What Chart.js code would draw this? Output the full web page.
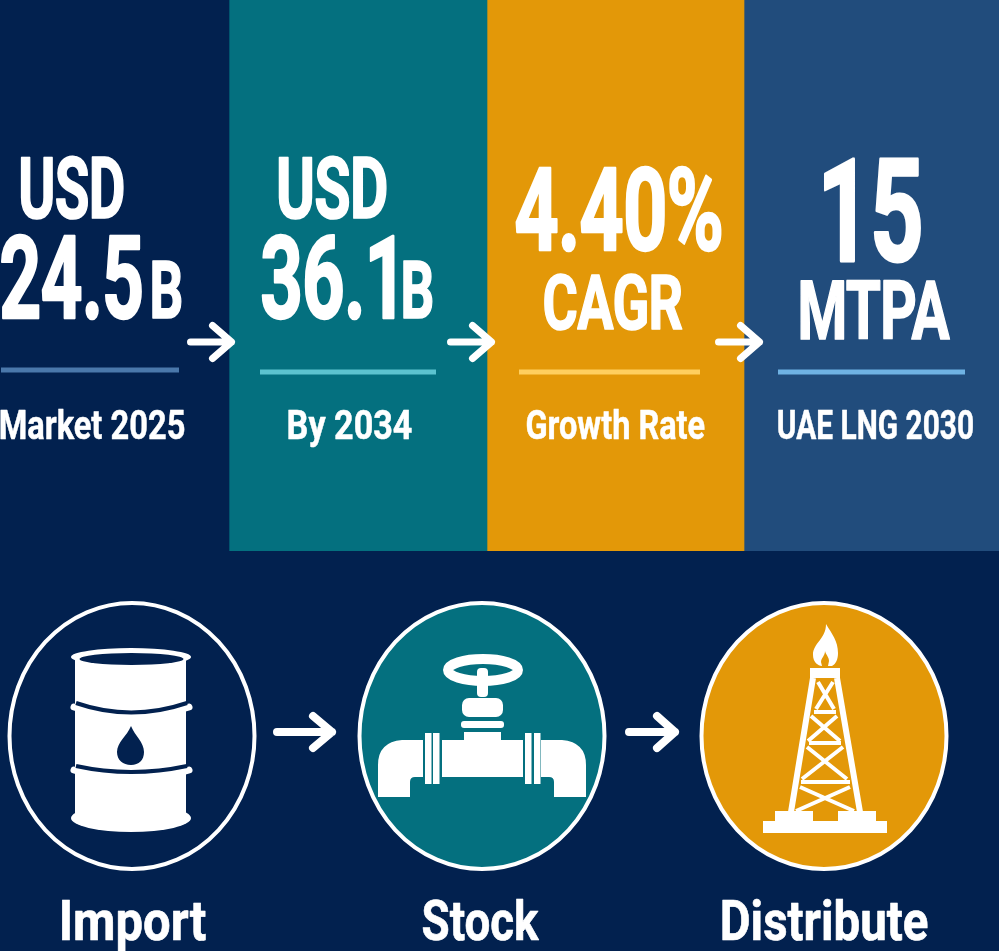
<!DOCTYPE html>
<html>
<head>
<meta charset="utf-8">
<title>LNG market</title>
<script src="https://cdn.jsdelivr.net/npm/chart.js@4"></script>
<style>
  html, body { margin: 0; padding: 0; width: 999px; height: 951px; overflow: hidden; background: #02214f; }
  canvas { display: block; }
</style>
</head>
<body>
<canvas id="chartPanels" width="999" height="551"></canvas>
<canvas id="chartSteps" width="999" height="400"></canvas>
<script>
// ── DATA ──────────────────────────────────────────────────────
const panelNames  = ['Market 2025', 'By 2034', 'Growth Rate', 'UAE LNG 2030'];
const panelWidths = [229, 258, 257, 255];
const headTop     = ['USD', 'USD', '4.40%', '15'];
const headMain    = ['24.5', '36.1', 'CAGR', 'MTPA'];
const headUnit    = ['B', 'B', '', ''];
const stepNames   = ['Import', 'Stock', 'Distribute'];
const stepLevels  = [1, 1, 1];

// ── STYLE ─────────────────────────────────────────────────────
const NAVY = '#02214f', TEAL = '#04707f', GOLD = '#e39808', BLUE = '#214c7c', WHITE = '#ffffff';
const panelColors = [NAVY, TEAL, GOLD, BLUE];
const ruleColors  = ['#4a78ab', '#5cc3cf', '#ffcf5f', '#6fb2e3'];
const FONT = 'Roboto, sans-serif';

// ink box of each text: x from, x to, baseline, font size
const topBoxes  = [[20, 124, 219, 87], [278, 387, 219, 87], [515, 722, 251, 117], [823, 922, 262, 146]];
const mainBoxes = [[0, 143, 319, 117], [261, 395, 319, 117], [544, 683, 330, 77], [800, 951, 340, 84]];
const unitBoxes = [[152, 182, 319, 82], [403, 433, 319, 82]];
const nameBoxes = [[0, 185, 439, 42], [288, 412, 439, 42], [526, 705, 439, 42], [778, 973, 439, 42]];
const stepBoxes = [[62, 206, 389, 56], [422, 540, 389, 56], [722, 928, 389, 56]];
const rules     = [[1, 179, 370], [260, 436, 372], [519, 700, 372], [778, 965, 372]];

function fitText(ctx, text, box) {
  const [x0, x1, base, size] = box;
  const big = size > 60;
  const lw = size * (big ? 0.02 : 0.012);
  ctx.save();
  ctx.font = `700 ${size - lw}px ${FONT}`;
  ctx.letterSpacing = big ? `${-size * 0.012}px` : '0px';
  ctx.fillStyle = WHITE;
  ctx.strokeStyle = WHITE;
  ctx.lineJoin = 'round';
  ctx.lineWidth = lw;
  ctx.textBaseline = 'alphabetic';
  ctx.textAlign = 'left';
  const m = ctx.measureText(text);
  const sx = (x1 - x0 - lw) / (m.actualBoundingBoxLeft + m.actualBoundingBoxRight);
  ctx.translate(x0 + lw / 2 + m.actualBoundingBoxLeft * sx, base - lw / 2);
  ctx.scale(sx, 1);
  ctx.strokeText(text, 0, 0);
  ctx.fillText(text, 0, 0);
  ctx.restore();
}

function drawArrow(ctx, x0, tip, headX, y, spread, lw) {
  ctx.save();
  ctx.strokeStyle = WHITE;
  ctx.lineWidth = lw;
  ctx.lineCap = 'round';
  ctx.lineJoin = 'round';
  ctx.beginPath();
  ctx.moveTo(x0, y);
  ctx.lineTo(tip, y);
  ctx.moveTo(headX, y - spread);
  ctx.lineTo(tip, y);
  ctx.lineTo(headX, y + spread);
  ctx.stroke();
  ctx.restore();
}

// ── PANELS ────────────────────────────────────────────────────
const panelText = {
  id: 'panelText',
  afterDraw(chart) {
    const ctx = chart.ctx;
    panelNames.forEach((name, i) => {
      fitText(ctx, headTop[i], topBoxes[i]);
      fitText(ctx, headMain[i], mainBoxes[i]);
      if (headUnit[i]) fitText(ctx, headUnit[i], unitBoxes[i]);
      fitText(ctx, name, nameBoxes[i]);
      const [a, b, y] = rules[i];
      ctx.fillStyle = ruleColors[i];
      ctx.fillRect(a, y - 2.5, b - a, 5);
    });
    // arrows sit just across each panel edge
    [2.5, 4.5, 15.5].forEach((over, i) => {
      const edge = chart.getDatasetMeta(i).data[0].x;
      drawArrow(ctx, edge + over - 41, edge + over, edge + over - 19, 342, 16.5, 7);
    });
  }
};

new Chart(document.getElementById('chartPanels'), {
  type: 'bar',
  data: {
    labels: ['panels'],
    datasets: panelNames.map((name, i) => ({
      label: name, data: [panelWidths[i]], backgroundColor: panelColors[i], borderWidth: 0
    }))
  },
  options: {
    indexAxis: 'y', responsive: false, animation: false,
    barPercentage: 1, categoryPercentage: 1,
    layout: { padding: 0 },
    plugins: { legend: { display: false }, tooltip: { enabled: false } },
    scales: {
      x: { stacked: true, display: false, min: 0, max: 999 },
      y: { stacked: true, display: false }
    }
  },
  plugins: [panelText]
});

// ── BADGES (used as point images) ─────────────────────────────
const BADGE_W = 270, BADGE_H = 290;

function makeBadge(cx, cy, nudge, fill, drawIcon) {
  const c = document.createElement('canvas');
  c.width = BADGE_W + 20; c.height = BADGE_H;
  const g = c.getContext('2d');
  g.translate(c.width / 2 - cx + nudge, BADGE_H / 2 - cy);
  g.beginPath();
  g.ellipse(cx, cy, 122.5, 133, 0, 0, Math.PI * 2);
  g.fillStyle = fill;
  g.fill();
  g.strokeStyle = WHITE;
  g.lineWidth = 4;
  g.stroke();
  g.fillStyle = WHITE;
  g.strokeStyle = WHITE;
  drawIcon(g, fill);
  return c;
}

function curve(g, x0, y0, cx, cy, x1, y1, lw, color, cap) {
  g.beginPath();
  g.moveTo(x0, y0);
  g.quadraticCurveTo(cx, cy, x1, y1);
  g.lineWidth = lw;
  g.strokeStyle = color;
  g.lineCap = cap;
  g.stroke();
}

function drawBarrel(g, bg) {
  g.fillRect(75, 658, 111, 162);
  g.beginPath(); g.ellipse(131, 819, 60, 14, 0, 0, Math.PI * 2); g.fill();
  g.beginPath(); g.ellipse(131, 658, 60, 9, 0, 0, Math.PI * 2); g.fill();
  g.fillStyle = bg;
  g.beginPath(); g.ellipse(131.5, 660, 52, 6, 0, 0, Math.PI * 2); g.fill();
  curve(g, 74, 708, 131, 727, 189, 708, 7, WHITE, 'round');
  curve(g, 76, 704, 131, 723, 187, 704, 4, bg, 'butt');
  curve(g, 74, 771, 131, 790, 189, 771, 7, WHITE, 'round');
  curve(g, 76, 767, 131, 779, 187, 767, 4, bg, 'butt');
  g.fillStyle = bg;
  g.beginPath();
  g.moveTo(131, 727);
  g.bezierCurveTo(127, 737, 117, 743, 117, 753);
  g.bezierCurveTo(117, 761, 123, 766, 131, 766);
  g.bezierCurveTo(139, 766, 144, 761, 144, 753);
  g.bezierCurveTo(144, 743, 135, 737, 131, 727);
  g.fill();
}

function rr(g, x0, y0, x1, y1, r) {
  g.beginPath();
  g.roundRect(x0, y0, x1 - x0, y1 - y0, r);
  g.fill();
}

function drawValve(g) {
  g.beginPath(); g.ellipse(483, 671, 35, 11, 0, 0, Math.PI * 2); g.lineWidth = 10; g.stroke();
  rr(g, 477, 669, 488, 698, 4);
  rr(g, 462, 699, 503, 718, 7);
  rr(g, 461, 722, 504, 729, 3);
  g.fillRect(464, 733, 37, 12);
  g.fillRect(442, 741, 81, 37);
  [425, 433, 525, 534].forEach(x => g.fillRect(x, 734, 6.5, 51));
  [0, 1].forEach(side => {
    const f = x => side ? 964 - x : x;
    g.beginPath();
    g.moveTo(f(423), 741);
    g.lineTo(f(402), 741);
    g.quadraticCurveTo(f(378), 743, f(378), 766);
    g.lineTo(f(378), 798);
    g.lineTo(f(410), 798);
    g.lineTo(f(410), 783);
    g.quadraticCurveTo(f(410), 778, f(415), 778);
    g.lineTo(f(423), 778);
    g.closePath();
    g.fill();
  });
}

function drawDerrick(g, bg) {
  // flame
  g.beginPath();
  g.moveTo(826, 625);
  g.bezierCurveTo(826, 640, 813, 644, 813, 656);
  g.bezierCurveTo(813, 663, 818, 667, 822, 667);
  g.lineTo(832, 667);
  g.bezierCurveTo(836, 665, 838, 660, 838, 654);
  g.bezierCurveTo(838, 642, 832, 635, 826, 625);
  g.fill();
  g.fillStyle = bg;
  g.beginPath();
  g.moveTo(825, 652);
  g.bezierCurveTo(825, 657, 821, 659, 821, 663);
  g.lineTo(822, 667);
  g.lineTo(828, 667);
  g.lineTo(829, 662);
  g.bezierCurveTo(829, 658, 826, 656, 825, 652);
  g.fill();
  g.fillStyle = WHITE;
  g.fillRect(810, 669, 30, 10);
  // legs
  g.lineCap = 'butt';
  g.lineWidth = 6;
  g.beginPath();
  g.moveTo(813, 679); g.lineTo(791, 813);
  g.moveTo(837, 679); g.lineTo(860, 813);
  g.stroke();
  // cross bracing
  g.lineWidth = 4;
  g.beginPath();
  [[814, 713, 836, 713], [809, 744, 841, 744], [801, 783, 850, 783],
   [818, 683, 834, 710], [833, 683, 816, 710],
   [811, 717, 840, 742], [837, 717, 808, 742],
   [807, 748, 847, 780], [843, 748, 802, 780],
   [800, 788, 854, 812], [850, 788, 796, 812]].forEach(([a, b, c, d]) => {
    g.moveTo(a, b); g.lineTo(c, d);
  });
  g.stroke();
  // base
  g.fillRect(775, 812, 38, 11);
  g.fillRect(838, 812, 38, 11);
  g.fillRect(763, 822, 124, 12);
}

const stepBadges = [
  makeBadge(132, 737, 0, NAVY, drawBarrel),
  makeBadge(482, 737, 4, TEAL, drawValve),
  makeBadge(824, 737, 0, GOLD, drawDerrick)
];

// ── STEPS ─────────────────────────────────────────────────────
const stepText = {
  id: 'stepText',
  afterDraw(chart) {
    const ctx = chart.ctx;
    stepNames.forEach((name, i) => fitText(ctx, name, stepBoxes[i]));
    const pts = chart.getDatasetMeta(0).data;
    // arrows hang off the badge centres
    drawArrow(ctx, pts[0].x + 145, pts[0].x + 200, pts[0].x + 181, pts[0].y - 4, 16, 8);
    drawArrow(ctx, pts[1].x + 151, pts[1].x + 197, pts[1].x + 179, pts[1].y - 4, 16, 8);
  }
};

new Chart(document.getElementById('chartSteps'), {
  type: 'line',
  data: {
    labels: stepNames,
    datasets: [{
      data: stepLevels, showLine: false, clip: false,
      pointStyle: stepBadges, pointRadius: 5, pointHoverRadius: 5
    }]
  },
  options: {
    responsive: false, animation: false,
    layout: { padding: { left: 132, right: 175, top: 0, bottom: 36 } },
    plugins: { legend: { display: false }, tooltip: { enabled: false } },
    scales: {
      x: { display: false, offset: false },
      y: { display: false, min: 0, max: 2 }
    }
  },
  plugins: [stepText]
});
</script>
</body>
</html>
